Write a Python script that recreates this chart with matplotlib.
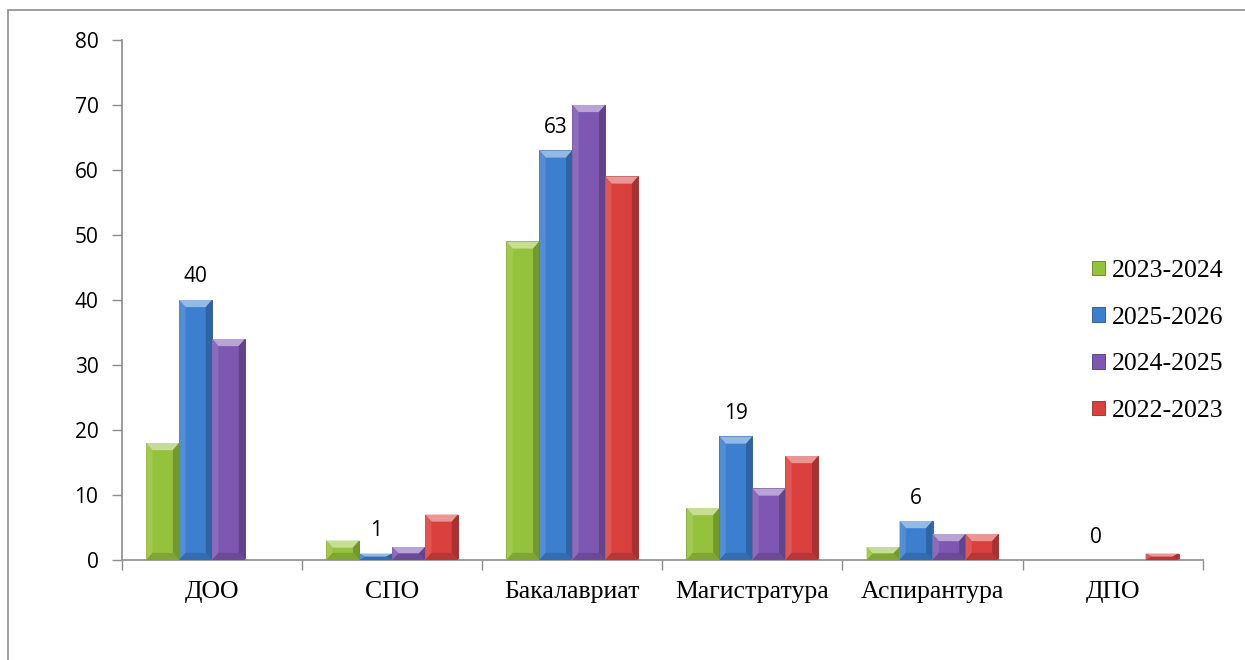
import numpy as np
import matplotlib.pyplot as plt
from matplotlib.patches import Polygon, Rectangle
from matplotlib.colors import to_rgb

# ----------------------------------------------------------------------
# data
# ----------------------------------------------------------------------
categories = ["ДОО", "СПО", "Бакалавриат", "Магистратура", "Аспирантура", "ДПО"]
series_names = ["2023-2024", "2025-2026", "2024-2025", "2022-2023"]
v_2023_2024 = [18, 3, 49, 8, 2, 0]
v_2025_2026 = [40, 1, 63, 19, 6, 0]
v_2024_2025 = [34, 2, 70, 11, 4, 0]
v_2022_2023 = [0, 7, 59, 16, 4, 1]
series_values = [v_2023_2024, v_2025_2026, v_2024_2025, v_2022_2023]
labelled_series = "2025-2026"   # only this one carries data labels

colors = ["#95C23C", "#3C7FCF", "#7E57B2", "#D9403E"]


def shade(c, f):
    r, g, b = to_rgb(c)
    if f >= 0:
        return (r + (1 - r) * f, g + (1 - g) * f, b + (1 - b) * f)
    return (r * (1 + f), g * (1 + f), b * (1 + f))


def bevel(ax, rect, color, dx, dy):
    x0 = rect.get_x()
    x1 = x0 + rect.get_width()
    h = rect.get_height()
    if h <= 0:
        return
    dyy = min(dy, h / 2)
    dxx = min(dx, (x1 - x0) / 2)
    faces = [
        ([(x0, h), (x1, h), (x1 - dxx, h - dyy), (x0 + dxx, h - dyy)], shade(color, 0.45)),
        ([(x0, 0), (x0, h), (x0 + dxx, h - dyy), (x0 + dxx, dyy)], shade(color, 0.12)),
        ([(x1, 0), (x1, h), (x1 - dxx, h - dyy), (x1 - dxx, dyy)], shade(color, -0.22)),
        ([(x0, 0), (x1, 0), (x1 - dxx, dyy), (x0 + dxx, dyy)], shade(color, -0.15)),
    ]
    for pts, fc in faces:
        ax.add_patch(Polygon(pts, closed=True, facecolor=fc, edgecolor="none", zorder=3))


# ----------------------------------------------------------------------
# plot
# ----------------------------------------------------------------------
fig = plt.figure(figsize=(12.45, 6.6), dpi=100)
ax = fig.add_axes([0.098, 0.1515, 0.868, 0.788])

# outer chart frame (clipped by the image on the right and bottom)
fig.patches.append(Rectangle((8 / 1245, -0.05), 1.2, 1 - 10 / 660 + 0.05,
                             transform=fig.transFigure, fill=False,
                             edgecolor="#8C8C8C", linewidth=1.2))

n = len(series_names)
bw = 0.183
x = np.arange(len(categories))
for i, (name, vals, col) in enumerate(zip(series_names, series_values, colors)):
    pos = x + (i - (n - 1) / 2) * bw
    bars = ax.bar(pos, vals, width=bw, color=col, edgecolor=shade(col, -0.35),
                  linewidth=0.6, zorder=2, label=name)
    for b in bars:
        bevel(ax, b, col, 0.035, 1.1)
    if name == labelled_series:
        for b, v in zip(bars, vals):
            ax.annotate(f"{v}", (b.get_x() + b.get_width() / 2, v),
                        xytext=(0, 9), textcoords="offset points",
                        ha="center", va="bottom", fontsize=15,
                        family="Open Sans", color="black")

ax.set_xlim(-0.5, len(categories) - 0.5)
ax.set_ylim(0, 80)
ax.set_yticks(np.arange(0, 81, 10))
ax.set_xticks(x)
ax.set_xticklabels(categories, family="Liberation Serif", fontsize=18.5)
ax.set_xticks(np.arange(-0.5, len(categories)), minor=True)
ax.tick_params(axis="x", which="major", length=0, pad=15)
ax.tick_params(axis="x", which="minor", length=7, color="#8C8C8C", width=1)
ax.tick_params(axis="y", length=7, color="#8C8C8C", width=1, pad=10)
for t in ax.get_yticklabels():
    t.set_family("Open Sans")
    t.set_fontsize(15)

for s in ["top", "right"]:
    ax.spines[s].set_visible(False)
for s in ["left", "bottom"]:
    ax.spines[s].set_color("#8C8C8C")
    ax.spines[s].set_linewidth(1.2)

leg = ax.legend(loc="center left", bbox_to_anchor=(0.876, 0.421), frameon=False,
                prop={"family": "Liberation Serif", "size": 18.5},
                handlelength=0.5, handleheight=0.5, handletextpad=0.3,
                labelspacing=0.96)

fig.savefig("out.png", dpi=100)
